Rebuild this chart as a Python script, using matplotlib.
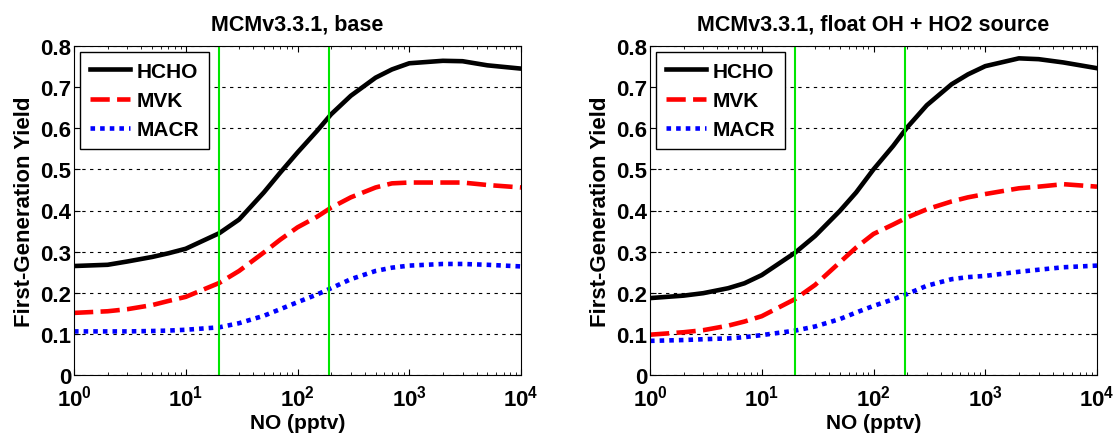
import numpy as np
import matplotlib
matplotlib.use('Agg')
import matplotlib.pyplot as plt
from matplotlib.ticker import LogLocator, NullFormatter, FixedLocator

plt.rcParams['font.family'] = ['Liberation Sans', 'DejaVu Sans']
plt.rcParams['font.weight'] = 'bold'
plt.rcParams['mathtext.fontset'] = 'custom'
plt.rcParams['mathtext.bf'] = 'Liberation Sans:bold'
plt.rcParams['mathtext.rm'] = 'Liberation Sans:bold'

# NO (pptv)
no = [1, 2, 3, 5, 7, 10, 20, 30, 50, 70, 100, 150, 200, 300, 500, 700,
      1000, 2000, 3000, 5000, 10000]

# 左图: base
hcho_base = [0.265, 0.268, 0.276, 0.287, 0.296, 0.307, 0.345, 0.378, 0.444, 0.492,
             0.541, 0.594, 0.634, 0.679, 0.723, 0.743, 0.758, 0.764, 0.763, 0.753, 0.745]
mvk_base = [0.151, 0.155, 0.160, 0.170, 0.180, 0.190, 0.224, 0.253, 0.298, 0.329,
            0.359, 0.385, 0.407, 0.432, 0.456, 0.466, 0.468, 0.468, 0.468, 0.462, 0.456]
macr_base = [0.106, 0.106, 0.106, 0.107, 0.108, 0.110, 0.116, 0.126, 0.144, 0.160,
             0.177, 0.196, 0.211, 0.233, 0.253, 0.261, 0.266, 0.270, 0.270, 0.268, 0.264]

# 右图: float OH + HO2 source
hcho_float = [0.187, 0.193, 0.199, 0.211, 0.223, 0.243, 0.298, 0.338, 0.399, 0.444,
              0.500, 0.557, 0.602, 0.656, 0.707, 0.731, 0.751, 0.770, 0.768, 0.760, 0.746]
mvk_float = [0.098, 0.104, 0.109, 0.120, 0.130, 0.143, 0.185, 0.219, 0.274, 0.310,
             0.343, 0.366, 0.383, 0.403, 0.422, 0.432, 0.440, 0.454, 0.458, 0.464, 0.458]
macr_float = [0.083, 0.085, 0.087, 0.089, 0.092, 0.097, 0.108, 0.118, 0.136, 0.152,
              0.168, 0.184, 0.197, 0.217, 0.233, 0.238, 0.241, 0.251, 0.256, 0.262, 0.266]

green_x = [20, 190]
titles = ['MCMv3.3.1, base', 'MCMv3.3.1, float OH + HO2 source']
series = [(hcho_base, mvk_base, macr_base), (hcho_float, mvk_float, macr_float)]

fig = plt.figure(figsize=(11.13, 4.39), dpi=100)
positions = [[74/1113, 63/439, 447/1113, 329/439],
             [650/1113, 63/439, 447/1113, 329/439]]

for pos, title, (h, m, c) in zip(positions, titles, series):
    ax = fig.add_axes(pos)
    ax.set_xscale('log')
    ax.plot(no, h, color='black', lw=3.3, ls='-', label='HCHO')
    ax.plot(no, m, color='red', lw=3.3, ls=(0, (4.2, 1.6)), label='MVK')
    ax.plot(no, c, color='blue', lw=3.3, ls=(0, (1, 1.1)), label='MACR')
    for gx in green_x:
        ax.axvline(gx, color='#00e600', lw=1.5)
    ax.set_xlim(1, 1e4)
    ax.set_ylim(0, 0.8)
    ax.yaxis.set_major_locator(FixedLocator(np.arange(0, 0.81, 0.1)))
    ax.set_yticklabels(['0', '0.1', '0.2', '0.3', '0.4', '0.5', '0.6', '0.7', '0.8'])
    ax.set_xticks([1, 10, 100, 1000, 10000])
    ax.set_xticklabels([r'$\mathbf{10^{0}}$', r'$\mathbf{10^{1}}$', r'$\mathbf{10^{2}}$',
                        r'$\mathbf{10^{3}}$', r'$\mathbf{10^{4}}$'])
    ax.xaxis.set_minor_locator(LogLocator(base=10, subs=np.arange(2, 10)))
    ax.xaxis.set_minor_formatter(NullFormatter())
    ax.grid(axis='y', which='major', color='black', ls=(0, (3, 4)), lw=0.8)
    ax.tick_params(direction='in', top=True, right=True, labelsize=16, length=4, pad=2)
    ax.tick_params(axis='x', pad=7)
    ax.tick_params(which='minor', direction='in', top=True, bottom=True, length=2.5)
    ax.set_xlabel('NO (pptv)', fontsize=15, fontweight='bold', labelpad=2)
    ax.set_ylabel('First-Generation Yield', fontsize=16, fontweight='bold', labelpad=4)
    ax.set_title(title, fontsize=15.5, fontweight='bold', pad=12)
    leg = ax.legend(loc='upper left', fontsize=15, handlelength=1.95, frameon=True,
                    fancybox=False, edgecolor='black', framealpha=1,
                    borderaxespad=0.3, labelspacing=0.5, handletextpad=0.3,
                    borderpad=0.45)
    leg.get_frame().set_linewidth(1.0)

fig.savefig('out.png', dpi=100)
